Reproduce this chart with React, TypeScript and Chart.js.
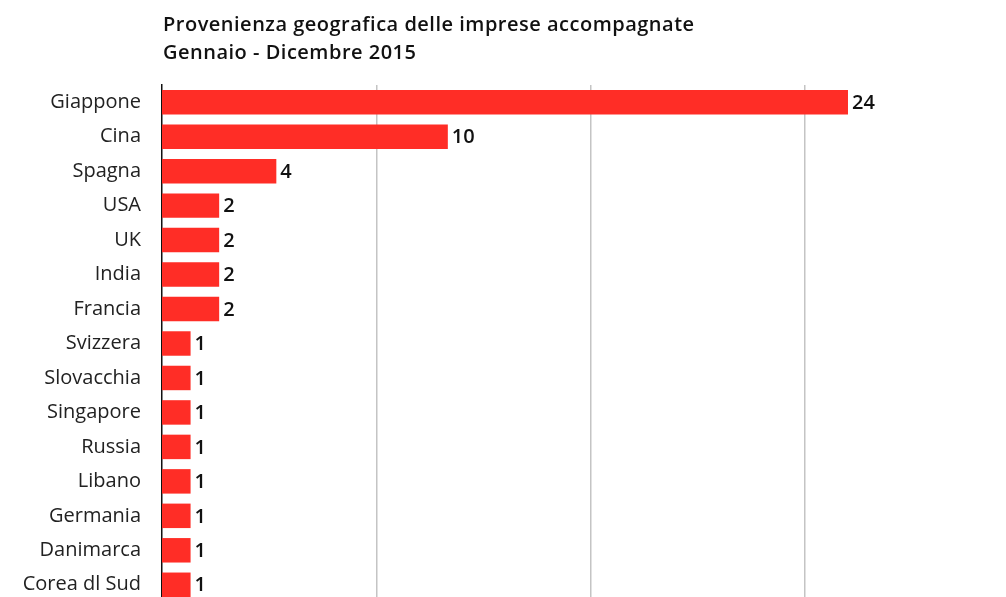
import React, { useEffect, useRef } from "react";
import { Chart, registerables } from "chart.js";

Chart.register(...registerables);

const titleLines = [
  "Provenienza geografica delle imprese accompagnate",
  "Gennaio - Dicembre 2015",
];
const countries = [
  "Giappone", "Cina", "Spagna", "USA", "UK", "India", "Francia", "Svizzera",
  "Slovacchia", "Singapore", "Russia", "Libano", "Germania", "Danimarca", "Corea dl Sud",
];
const companies = [24, 10, 4, 2, 2, 2, 2, 1, 1, 1, 1, 1, 1, 1, 1];
const gridTicks = [7.5, 15, 22.5];

const FONT = "'Open Sans', Roboto, sans-serif";

const titlePlugin = {
  id: "customTitle",
  afterDraw(chart: any) {
    const { ctx, chartArea } = chart;
    ctx.save();
    ctx.fillStyle = "#111";
    ctx.font = `600 20px ${FONT}`;
    (ctx as any).letterSpacing = "0.5px";
    ctx.textAlign = "left";
    ctx.textBaseline = "alphabetic";
    titleLines.forEach((t, i) => ctx.fillText(t, chartArea.left + 1, 31 + i * 28));
    ctx.restore();
  },
};

const valuePlugin = {
  id: "valueLabels",
  afterDatasetsDraw(chart: any) {
    const { ctx } = chart;
    const meta = chart.getDatasetMeta(0);
    ctx.save();
    ctx.fillStyle = "#111";
    ctx.font = `600 20px ${FONT}`;
    ctx.textAlign = "left";
    ctx.textBaseline = "middle";
    meta.data.forEach((bar: any, i: number) => {
      ctx.fillText(String(companies[i]), bar.x + 4, bar.y + 1);
    });
    ctx.restore();
  },
};

export default function App() {
  const ref = useRef<HTMLCanvasElement>(null);
  useEffect(() => {
    document.body.style.margin = "0";
    const chart = new Chart(ref.current!, {
      type: "bar",
      data: {
        labels: countries,
        datasets: [
          {
            data: companies,
            backgroundColor: "rgb(255,45,38)",
            categoryPercentage: 1,
            barPercentage: 0.71,
          },
        ],
      },
      options: {
        indexAxis: "y",
        animation: false,
        responsive: false,
        maintainAspectRatio: false,
        layout: { padding: { top: 85, left: 0, right: 0, bottom: 0 } },
        plugins: { legend: { display: false }, tooltip: { enabled: false }, title: { display: false } },
        scales: {
          x: {
            min: 0,
            max: (1006 - 162) / 28.583,
            afterBuildTicks: (scale: any) => {
              scale.ticks = gridTicks.map((v) => ({ value: v }));
            },
            afterFit: (scale: any) => {
              scale.height = 0;
            },
            ticks: { display: false },
            border: { display: false },
            grid: { color: "#c4c4c4", lineWidth: 1.5, drawTicks: false },
          },
          y: {
            afterFit: (scale: any) => {
              scale.width = 162;
            },
            ticks: {
              color: "#222",
              font: { family: FONT, size: 20 },
              padding: 21,
            },
            grid: { display: false, drawTicks: false },
            border: { display: true, color: "#111", width: 1.5 },
          },
        },
      },
      plugins: [titlePlugin, valuePlugin],
    });
    return () => chart.destroy();
  }, []);
  return <canvas ref={ref} width={1006} height={635} style={{ display: "block" }} />;
}
